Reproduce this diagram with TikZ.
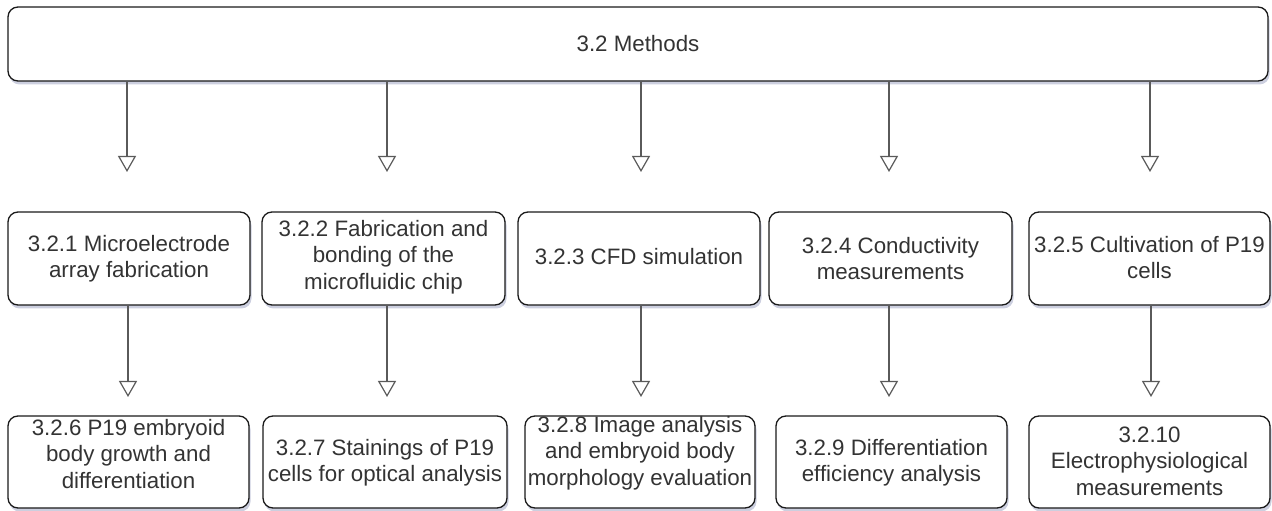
\documentclass[tikz,border=0pt]{standalone}
\usepackage{fontspec}
\setmainfont{Liberation Sans}
\usetikzlibrary{arrows.meta,shadows,calc}
\definecolor{bordercol}{HTML}{1A1A1A}
\definecolor{linecol}{HTML}{5A5A5A}
\definecolor{textcol}{HTML}{333333}
\definecolor{shadowcol}{HTML}{8088B0}
\begin{document}
\begin{tikzpicture}[x=1bp,y=-1bp,
  box/.style={draw=bordercol, line width=1.3bp, rounded corners=10bp, fill=white,
    minimum height=93bp, inner sep=0pt,
    drop shadow={shadow xshift=1.5bp, shadow yshift=-3.5bp, opacity=0.4, fill=shadowcol}},
  txt/.style={text=textcol, font=\fontsize{22.3bp}{26.5bp}\selectfont, align=center, inner sep=0pt},
  conn/.style={draw=linecol, line width=1.5bp,
    -{Triangle[open,length=16bp,width=18bp,line width=1.2bp]}}]
\useasboundingbox (0,0) rectangle (1272,511);

% top box
\node[box, minimum width=1260bp, minimum height=74bp] (top) at (638,44) {};
\node[txt] (topt) at (top.center) {3.2 Methods};

% row 1
\node[box, minimum width=242bp] (a1) at (129,258.5) {};
\node[box, minimum width=243bp] (a2) at (383.5,258.5) {};
\node[box, minimum width=242bp] (a3) at (639,258.5) {};
\node[box, minimum width=243bp] (a4) at (890.5,258.5) {};
\node[box, minimum width=241bp] (a5) at (1149.5,258.5) {};

\node[txt] (a1t) at (129,258.5) {3.2.1 Microelectrode\\array fabrication};
\node[txt] (a2t) at (383.5,257) {3.2.2 Fabrication and\\bonding of the\\microfluidic chip};
\node[txt] (a3t) at (639,257) {3.2.3 CFD simulation};
\node[txt] (a4t) at (890.5,258.5) {3.2.4 Conductivity\\measurements};
\node[txt] (a5t) at (1149.5,257.5) {3.2.5 Cultivation of P19\\cells};

% row 2
\node[box, minimum width=241bp, minimum height=92bp] (b1) at (128.5,462) {};
\node[box, minimum width=244bp, minimum height=92bp] (b2) at (385,462) {};
\node[box, minimum width=230bp, minimum height=92bp] (b3) at (640,462) {};
\node[box, minimum width=231bp, minimum height=92bp] (b4) at (891.5,462) {};
\node[box, minimum width=241bp, minimum height=92bp] (b5) at (1149.5,462) {};

\node[txt] (b1t) at (128.5,454) {3.2.6 P19 embryoid\\body growth and\\differentiation};
\node[txt] (b2t) at (385,462.5) {3.2.7 Stainings of P19\\cells for optical analysis};
\node[txt] (b3t) at (640,453) {3.2.8 Image analysis\\and embryoid body\\morphology evaluation};
\node[txt] (b4t) at (891.5,462.5) {3.2.9 Differentiation\\efficiency analysis};
\node[txt] (b5t) at (1149.5,461) {3.2.10\\Electrophysiological\\measurements};

% connector ends
\coordinate (p1) at (127,172);
\coordinate (p2) at (387,172);
\coordinate (p3) at (641,172);
\coordinate (p4) at (889,172);
\coordinate (p5) at (1150,172);
\coordinate (q1) at (128,397);
\coordinate (q2) at (387,397);
\coordinate (q3) at (641,397);
\coordinate (q4) at (889,397);
\coordinate (q5) at (1151,397);

\foreach \i in {1,...,5}{
  \draw[conn] (top.south -| p\i) -- (p\i);
  \draw[conn] (a\i.south -| q\i) -- (q\i);
}
\end{tikzpicture}
\end{document}
